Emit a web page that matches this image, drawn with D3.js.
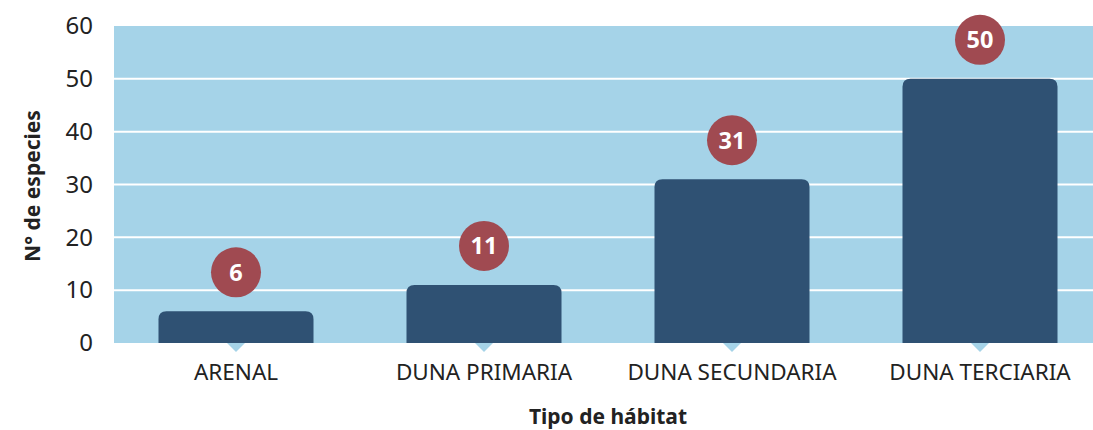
<!DOCTYPE html>
<html>
<head>
<meta charset="utf-8">
<script src="https://cdn.jsdelivr.net/npm/d3@7"></script>
<style>
  body { margin: 0; background: #fff; }
  svg text { font-family: "Noto Sans", "DejaVu Sans", sans-serif; fill: #222; }
</style>
</head>
<body>
<svg id="chart" width="1093" height="430"></svg>
<script>
const habitats = ["ARENAL", "DUNA PRIMARIA", "DUNA SECUNDARIA", "DUNA TERCIARIA"];
const species = [6, 11, 31, 50];
const yTicks = [0, 10, 20, 30, 40, 50, 60];

const plot = { left: 114, right: 1093, top: 26, bottom: 343 };

const svg = d3.select("#chart");

const x = d3.scaleBand()
  .domain(habitats)
  .range([112, 1104])
  .paddingInner(0.375)
  .paddingOuter(0.1875);

const y = d3.scaleLinear()
  .domain([0, 60])
  .range([plot.bottom, plot.top]);

// background
svg.append("rect")
  .attr("x", plot.left)
  .attr("y", plot.top)
  .attr("width", plot.right - plot.left)
  .attr("height", plot.bottom - plot.top)
  .attr("fill", "#a5d3e8");

// grid
svg.append("g")
  .selectAll("line")
  .data(yTicks.filter(d => d > 0 && d < 60))
  .join("line")
  .attr("x1", plot.left)
  .attr("x2", plot.right)
  .attr("y1", d => y(d))
  .attr("y2", d => y(d))
  .attr("stroke", "#fff")
  .attr("stroke-width", 2);

// y tick labels
const yAxis = d3.axisLeft(y).tickValues(yTicks).tickSize(0).tickPadding(0);
svg.append("g")
  .attr("transform", `translate(93,0)`)
  .call(yAxis)
  .call(g => g.select(".domain").remove())
  .call(g => g.selectAll("text")
    .attr("font-size", 24)
    .attr("fill", "#222")
    .style("font-family", '"Noto Sans", sans-serif'));

// bars with rounded top corners
const r = 8;
const bw = x.bandwidth();
const barPath = d => {
  const x0 = x(d.k), y0 = y(d.v), y1 = y(0);
  return `M${x0},${y1} V${y0 + r} Q${x0},${y0} ${x0 + r},${y0} H${x0 + bw - r} Q${x0 + bw},${y0} ${x0 + bw},${y0 + r} V${y1} Z`;
};
const data = habitats.map((k, i) => ({ k, v: species[i] }));

svg.append("g")
  .selectAll("path")
  .data(data)
  .join("path")
  .attr("d", barPath)
  .attr("fill", "#2f5173");

// little pointers below the axis
svg.append("g")
  .selectAll("path")
  .data(data)
  .join("path")
  .attr("d", d => {
    const cx = x(d.k) + bw / 2;
    return `M${cx - 9},${plot.bottom} L${cx + 9},${plot.bottom} L${cx},${plot.bottom + 9} Z`;
  })
  .attr("fill", "#a5d3e8");

// x labels
const xAxis = d3.axisBottom(x).tickSize(0).tickPadding(0);
svg.append("g")
  .attr("transform", `translate(0,${plot.bottom + 21})`)
  .call(xAxis)
  .call(g => g.select(".domain").remove())
  .call(g => g.selectAll("text")
    .attr("font-size", 22.5)
    .attr("fill", "#222")
    .style("font-family", '"Noto Sans", sans-serif'));

// value bubbles
const bubbles = svg.append("g")
  .selectAll("g")
  .data(data)
  .join("g")
  .attr("transform", d => `translate(${x(d.k) + bw / 2},${y(d.v) - 39})`);

bubbles.append("circle")
  .attr("r", 25)
  .attr("fill", "#a04a51");

bubbles.append("text")
  .attr("text-anchor", "middle")
  .attr("dy", "0.36em")
  .attr("font-size", 23.5)
  .attr("font-weight", "bold")
  .style("fill", "#fff")
  .text(d => d.v);

// axis titles
svg.append("text")
  .attr("x", 608)
  .attr("y", 424)
  .attr("text-anchor", "middle")
  .attr("font-size", 21)
  .attr("font-weight", "bold")
  .text("Tipo de hábitat");

svg.append("text")
  .attr("transform", `translate(40,${186}) rotate(-90)`)
  .attr("text-anchor", "middle")
  .attr("font-size", 21)
  .attr("font-weight", "bold")
  .text("N° de especies");
</script>
</body>
</html>
